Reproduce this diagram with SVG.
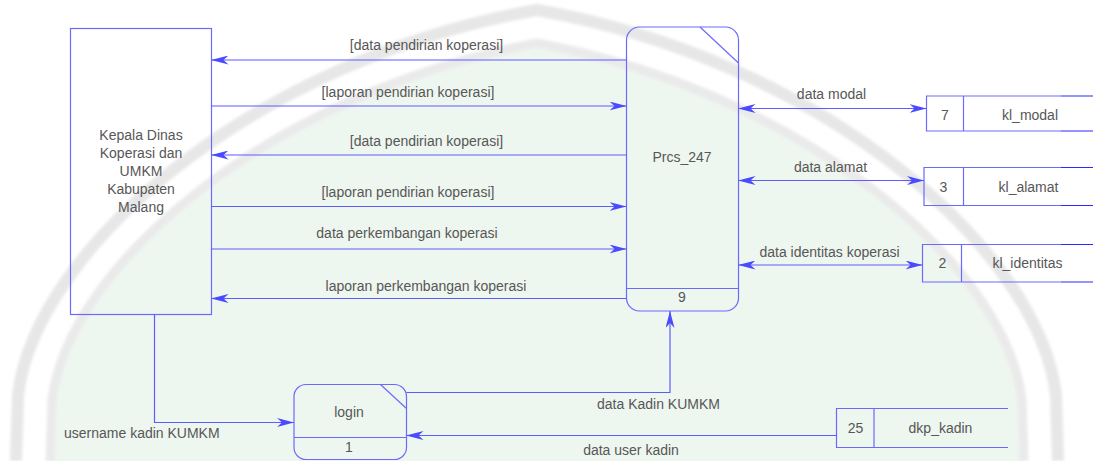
<svg xmlns="http://www.w3.org/2000/svg" width="1093" height="461" viewBox="0 0 1093 461">
  <style>
    .lbl { font-family: "Liberation Sans", Arial, sans-serif; font-size: 14px; fill: #575757; }
    .mid { text-anchor: middle; }
    .box { fill: none; stroke: #6a6aff; stroke-width: 1.2; }
    .edge { fill: none; stroke: #2a2aff; stroke-width: 1.2; }
    .flow { fill: none; stroke: #5c5cff; stroke-width: 1.2; }
    .one { marker-end: url(#head); }
    .two { marker-start: url(#head); marker-end: url(#head); }
    .band { fill: none; stroke-linejoin: round; filter: url(#soft); }
  </style>
  <defs>
    <marker id="head" viewBox="0 0 17 9" refX="17" refY="4.5" markerWidth="17" markerHeight="9" markerUnits="userSpaceOnUse" orient="auto-start-reverse">
      <path d="M0,0 L17,4.5 L0,9 L5,4.5 Z" fill="#4a4aff"/>
    </marker>
    <filter id="soft" x="-5%" y="-5%" width="110%" height="110%">
      <feGaussianBlur stdDeviation="1.5"/>
    </filter>
  </defs>

  <!-- page background with faint shield watermark -->
  <rect width="1093" height="461" fill="#ffffff"/>
  <g id="seal">
    <path d="M50,461 L52,400 C68,265 272,92 537,43 C802,92 1006,265 1022,400 L1024,461 Z" fill="#eef6f0"/>
    <path class="band" d="M16,461 L18,395 C35,250 252,60 537,10 C822,60 1039,250 1056,395 L1058,461" stroke="#e7e7e7" stroke-width="12"/>
    <path class="band" d="M50,461 L52,400 C68,265 272,92 537,43 C802,92 1006,265 1022,400 L1024,461" stroke="#eaeaea" stroke-width="9"/>
  </g>

  <!-- external entity -->
  <g id="entity-kadin">
    <rect class="box" x="70.5" y="28.5" width="141" height="286"/>
    <text class="lbl mid" x="141" y="139.5">Kepala Dinas</text>
    <text class="lbl mid" x="141" y="157.5">Koperasi dan</text>
    <text class="lbl mid" x="141" y="175.5">UMKM</text>
    <text class="lbl mid" x="141" y="193.5">Kabupaten</text>
    <text class="lbl mid" x="141" y="211.5">Malang</text>
  </g>

  <!-- process 9 -->
  <g id="process-9">
    <rect class="box" x="626.5" y="27" width="112" height="284" rx="13" ry="13"/>
    <line class="box" x1="700" y1="27" x2="738.5" y2="63"/>
    <line class="box" x1="626.5" y1="288.5" x2="738.5" y2="288.5"/>
    <text class="lbl mid" x="682" y="161.5">Prcs_247</text>
    <text class="lbl mid" x="682" y="301.5">9</text>
  </g>

  <!-- process 1 -->
  <g id="process-1">
    <rect class="box" x="294" y="384.5" width="112.5" height="75" rx="12" ry="12"/>
    <line class="box" x1="380.5" y1="384.5" x2="406.5" y2="408.5"/>
    <line class="box" x1="294" y1="437.5" x2="406.5" y2="437.5"/>
    <text class="lbl mid" x="349" y="416.5">login</text>
    <text class="lbl mid" x="349" y="451.5">1</text>
  </g>

  <!-- data stores -->
  <g id="store-7">
    <path class="box" d="M1061,96 H926.5 V131 H1061 M963.5,96 V131"/>
    <path class="edge" d="M1061,96 H1093 M1061,131 H1093"/>
    <text class="lbl mid" x="945" y="119.5">7</text>
    <text class="lbl mid" x="1030" y="119.5">kl_modal</text>
  </g>
  <g id="store-3">
    <path class="box" d="M1061,167.5 H924 V205.5 H1061 M963.5,167.5 V205.5"/>
    <path class="edge" d="M1061,167.5 H1093 M1061,205.5 H1093"/>
    <text class="lbl mid" x="943.5" y="192">3</text>
    <text class="lbl mid" x="1028.5" y="192">kl_alamat</text>
  </g>
  <g id="store-2">
    <path class="box" d="M1061,244.5 H922.5 V282 H1061 M961.5,244.5 V282"/>
    <path class="edge" d="M1061,244.5 H1093 M1061,282 H1093"/>
    <text class="lbl mid" x="942.5" y="267.5">2</text>
    <text class="lbl mid" x="1027.5" y="267.5">kl_identitas</text>
  </g>
  <g id="store-25">
    <path class="box" d="M1008,408.5 H836.5 V447.5 H1008 M874,408.5 V447.5"/>
    <text class="lbl mid" x="855.5" y="432.5">25</text>
    <text class="lbl mid" x="940.5" y="432.5">dkp_kadin</text>
  </g>

  <!-- data flows -->
  <g id="connectors">
    <line class="flow one" x1="626.5" y1="60" x2="211.5" y2="60"/>
    <line class="flow one" x1="211.5" y1="106" x2="626.5" y2="106"/>
    <line class="flow one" x1="626.5" y1="155" x2="211.5" y2="155"/>
    <line class="flow one" x1="211.5" y1="206.5" x2="626.5" y2="206.5"/>
    <line class="flow one" x1="211.5" y1="249" x2="626.5" y2="249"/>
    <line class="flow one" x1="626.5" y1="298.5" x2="211.5" y2="298.5"/>

    <line class="flow two" x1="738.5" y1="108.5" x2="926.5" y2="108.5"/>
    <line class="flow two" x1="738.5" y1="180.5" x2="924" y2="180.5"/>
    <line class="flow two" x1="738.5" y1="265" x2="922.5" y2="265"/>

    <polyline class="flow one" points="154.5,314.5 154.5,422.5 294,422.5"/>
    <polyline class="flow one" points="406.5,392.5 670,392.5 670,311"/>
    <line class="flow one" x1="836.5" y1="435.5" x2="406.5" y2="435.5"/>

    <text class="lbl mid" x="426.5" y="50">[data pendirian koperasi]</text>
    <text class="lbl mid" x="408" y="96.5">[laporan pendirian koperasi]</text>
    <text class="lbl mid" x="426.5" y="145.5">[data pendirian koperasi]</text>
    <text class="lbl mid" x="408" y="196.5">[laporan pendirian koperasi]</text>
    <text class="lbl mid" x="407" y="237.5">data perkembangan koperasi</text>
    <text class="lbl mid" x="426" y="291">laporan perkembangan koperasi</text>
    <text class="lbl mid" x="831.5" y="99">data modal</text>
    <text class="lbl mid" x="830.5" y="171.5">data alamat</text>
    <text class="lbl mid" x="829.5" y="256.5">data identitas koperasi</text>
    <text class="lbl" x="64" y="438">username kadin KUMKM</text>
    <text class="lbl mid" x="658.5" y="408.5">data Kadin KUMKM</text>
    <text class="lbl mid" x="631" y="455">data user kadin</text>
  </g>
</svg>
